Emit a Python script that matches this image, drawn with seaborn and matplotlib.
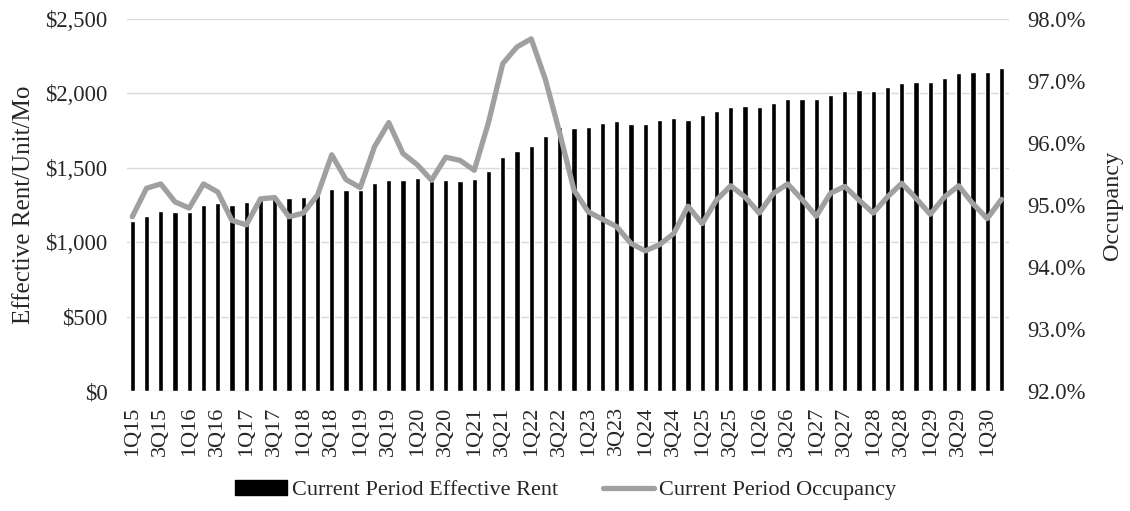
import numpy as np
import pandas as pd
import matplotlib
matplotlib.use("Agg")
import matplotlib.pyplot as plt
from matplotlib.patches import Patch
from matplotlib.lines import Line2D
from matplotlib.ticker import FuncFormatter
import seaborn as sns

# Quarterly periods, 1Q15 through 2Q30
quarters = [f"{q}Q{yy:02d}" for yy in range(15, 31) for q in range(1, 5)][:62]

# Effective rent per unit per month ($)
rent = [1143, 1177, 1208, 1200, 1202, 1247, 1262, 1253, 1269, 1283, 1300, 1296, 1305,
        1325, 1356, 1354, 1350, 1395, 1421, 1420, 1433, 1410, 1421, 1410, 1424, 1480,
        1574, 1614, 1648, 1715, 1771, 1765, 1771, 1798, 1816, 1796, 1796, 1820,
        1832, 1820, 1854, 1883, 1908, 1912, 1908, 1935, 1960, 1964, 1960, 1986,
        2015, 2022, 2018, 2044, 2071, 2078, 2078, 2105, 2134, 2141, 2141, 2168]

# Occupancy (%)
occupancy = [94.81, 95.27, 95.34, 95.05, 94.95, 95.34, 95.21, 94.75, 94.68, 95.10, 95.12, 94.81, 94.87,
             95.16, 95.81, 95.41, 95.28, 95.94, 96.33, 95.83, 95.65, 95.40, 95.77, 95.72, 95.56, 96.33,
             97.28, 97.55, 97.68, 97.02, 96.16, 95.24, 94.89, 94.77, 94.65, 94.38, 94.26, 94.36,
             94.54, 94.98, 94.70, 95.08, 95.31, 95.13, 94.87, 95.19, 95.34, 95.09, 94.82, 95.19,
             95.30, 95.08, 94.87, 95.13, 95.35, 95.11, 94.85, 95.13, 95.31, 95.02, 94.78, 95.09]

rent_ticks = [0, 500, 1000, 1500, 2000, 2500]
occ_ticks = [92, 93, 94, 95, 96, 97, 98]

legend_labels = ["Current Period Effective Rent", "Current Period Occupancy"]

sns.set_theme(style="white")
plt.rcParams["font.family"] = ["Liberation Serif", "DejaVu Serif"]
text_color = "#262626"
plt.rcParams["text.color"] = text_color
plt.rcParams["xtick.color"] = text_color
plt.rcParams["ytick.color"] = text_color
plt.rcParams["axes.labelcolor"] = text_color

df = pd.DataFrame({
    "quarter": quarters,
    "rent": rent,
    "occupancy": occupancy,
    "pos": np.arange(len(quarters)),
})

W, H = 1130, 511
fig = plt.figure(figsize=(W / 100, H / 100), dpi=100)
left, right, top, bottom = 127, 1009, 19, 391
ax = fig.add_axes([left / W, 1 - bottom / H, (right - left) / W, (bottom - top) / H])

sns.barplot(data=df, x="quarter", y="rent", color="black", saturation=1,
            width=0.36, ax=ax, zorder=2)
ax.set_ylim(0, 2500)
ax.set_yticks(rent_ticks)
ax.yaxis.set_major_formatter(FuncFormatter(lambda v, p: f"${v:,.0f}"))
ax.yaxis.grid(True, color="#d9d9d9", lw=1.0)
ax.set_axisbelow(True)
ax.set_xlabel("")
ax.set_ylabel("Effective Rent/Unit/Mo", fontsize=18, va="center")
ax.yaxis.set_label_coords((24 - left) / (right - left), 0.5)

ax2 = ax.twinx()
sns.lineplot(data=df, x="pos", y="occupancy", ax=ax2, color="#a0a0a0", lw=3.8,
             solid_joinstyle="round", solid_capstyle="round")
ax2.set_ylim(92, 98)
ax2.set_yticks(occ_ticks)
ax2.yaxis.set_major_formatter(FuncFormatter(lambda v, p: f"{v:.1f}%"))
ax2.set_ylabel("Occupancy", fontsize=17.5, va="center", rotation=90)
ax2.yaxis.set_label_coords((1113 - left) / (right - left), 0.5)
ax2.set_xlabel("")

ax.set_xticks(range(0, len(quarters), 2))
ax.set_xticklabels(quarters[::2], rotation=90)
ax.set_xlim(-0.37, len(quarters) - 1 + 0.53)

ax.tick_params(axis="x", length=0, pad=11, labelsize=16)
ax.tick_params(axis="y", length=0, pad=14, labelsize=16.3)
ax2.tick_params(axis="y", length=0, pad=13, labelsize=16.3)

for a in (ax, ax2):
    for s in a.spines.values():
        s.set_visible(False)

handles = [Patch(facecolor="black", edgecolor="black"),
           Line2D([], [], color="#a0a0a0", lw=3.8)]
fig.legend(handles, legend_labels, loc="center", bbox_to_anchor=(566 / W, 1 - 490 / H),
           ncol=2, frameon=False, fontsize=16, handlelength=2.3, handletextpad=0.25,
           columnspacing=2.0)

fig.savefig("out.png", dpi=100, facecolor="white")
